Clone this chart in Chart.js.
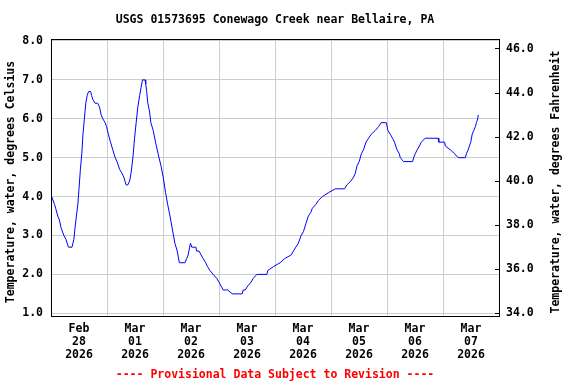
<!DOCTYPE html>
<html>
<head>
<meta charset="utf-8">
<script src="https://cdn.jsdelivr.net/npm/chart.js@4"></script>
<style>
html,body{margin:0;padding:0;background:#fff;}
#wrap{width:576px;height:384px;}
</style>
</head>
<body>
<div id="wrap"><canvas id="c" width="576" height="384"></canvas></div>
<script>
// ---- data (hours since 2026-02-28 00:00, water temperature in deg C) ----
const hours = [0.3,1.5,2.0,2.9,3.6,4.3,5.5,6.4,7.5,9.0,9.8,10.3,10.9,11.5,12.0,12.6,13.2,13.7,14.3,14.9,15.5,16.1,17.0,17.4,17.9,18.9,20.0,20.8,21.5,22.2,23.2,23.8,24.6,25.5,26.5,27.5,28.3,29.4,30.4,31.2,32.2,32.9,33.7,34.3,35.1,35.8,36.5,37.2,38.0,38.6,39.2,40.3,40.6,41.0,41.5,42.2,42.8,43.8,44.8,45.9,47.1,48.1,49.1,50.0,51.0,51.9,53.1,54.1,55.0,57.4,58.1,58.8,59.4,59.8,60.3,62.1,62.4,63.5,64.3,65.3,66.3,67.1,68.1,69.5,71.0,72.0,72.9,73.8,75.7,77.7,81.9,82.4,83.2,84.3,85.7,86.7,88.2,92.5,92.9,95.3,98.2,100.0,102.9,103.9,104.9,106.0,107.2,108.2,109.2,110.3,111.4,112.0,113.5,114.6,116.3,118.9,121.8,125.8,126.8,128.5,129.7,130.4,131.2,132.1,133.0,133.9,135.0,136.1,137.2,139.0,140.4,141.5,143.7,144.4,145.4,146.4,147.2,148.3,149.3,149.7,151.1,155.0,155.4,156.1,156.9,157.9,158.7,160.4,165.9,166.2,168.7,169.0,171.2,173.0,174.5,177.6,178.0,178.8,179.3,179.9,180.5,181.2,181.9,182.3,182.9,183.1];
const tempC = [4.0,3.8,3.7,3.5,3.4,3.2,3.0,2.9,2.7,2.7,2.9,3.2,3.5,3.8,4.2,4.7,5.1,5.6,6.0,6.4,6.6,6.7,6.7,6.6,6.5,6.4,6.4,6.3,6.1,6.0,5.9,5.8,5.6,5.4,5.2,5.0,4.9,4.7,4.6,4.5,4.3,4.3,4.4,4.6,5.0,5.5,5.9,6.3,6.6,6.8,7.0,7.0,6.9,6.7,6.4,6.2,5.9,5.7,5.4,5.1,4.8,4.5,4.1,3.8,3.5,3.2,2.8,2.6,2.3,2.3,2.4,2.5,2.7,2.8,2.7,2.7,2.6,2.6,2.5,2.4,2.3,2.2,2.1,2.0,1.9,1.8,1.7,1.6,1.6,1.5,1.5,1.6,1.6,1.7,1.8,1.9,2.0,2.0,2.1,2.2,2.3,2.4,2.5,2.6,2.7,2.8,3.0,3.1,3.3,3.5,3.6,3.7,3.8,3.9,4.0,4.1,4.2,4.2,4.3,4.4,4.5,4.6,4.8,4.9,5.1,5.2,5.4,5.5,5.6,5.7,5.8,5.9,5.9,5.7,5.6,5.5,5.4,5.2,5.1,5.0,4.9,4.9,5.0,5.1,5.2,5.3,5.4,5.5,5.5,5.4,5.4,5.3,5.2,5.1,5.0,5.0,5.1,5.2,5.3,5.4,5.6,5.7,5.8,5.9,6.0,6.1];
const dayMonths = ['Feb','Mar','Mar','Mar','Mar','Mar','Mar','Mar'];
const dayNums = ['28','01','02','03','04','05','06','07'];
const yearLabel = '2026';
const celsiusTicks = [1,2,3,4,5,6,7,8];
const fahrenheitTicks = [34,36,38,40,42,44,46];
const titleText = 'USGS 01573695 Conewago Creek near Bellaire, PA';
const footerText = '---- Provisional Data Subject to Revision ----';
const leftTitle = 'Temperature, water, degrees Celsius';
const rightTitle = 'Temperature, water, degrees Fahrenheit';

const FONT = '"DejaVu Sans Mono", "Liberation Mono", monospace';
Chart.defaults.color = '#000';
Chart.defaults.font.family = FONT;

const decor = {
  id: 'decor',
  beforeDraw(chart) {
    const ctx = chart.ctx;
    ctx.save();
    ctx.fillStyle = '#fff';
    ctx.fillRect(0, 0, chart.width, chart.height);
    ctx.restore();
  },
  afterDraw(chart) {
    const {ctx, chartArea: a} = chart;
    ctx.save();
    ctx.strokeStyle = '#000';
    ctx.lineWidth = 1;
    ctx.beginPath();
    ctx.moveTo(a.left, Math.round(a.top) + 0.5);
    ctx.lineTo(a.right + 0.5, Math.round(a.top) + 0.5);
    ctx.stroke();
    ctx.font = 'bold 11.5px ' + FONT;
    ctx.textAlign = 'center';
    ctx.textBaseline = 'middle';
    const cx = (a.left + a.right) / 2;
    ctx.fillStyle = '#000';
    ctx.fillText(titleText, cx, 20);
    ctx.fillStyle = '#ff0000';
    ctx.fillText(footerText, cx, 375);
    ctx.fillStyle = '#000';
    const cy = (a.top + a.bottom) / 2 + 4.5;
    ctx.save();
    ctx.translate(11.5, cy);
    ctx.rotate(-Math.PI / 2);
    ctx.fillText(leftTitle, 0, 0);
    ctx.restore();
    ctx.save();
    ctx.translate(556, cy);
    ctx.rotate(-Math.PI / 2);
    ctx.fillText(rightTitle, 0, 0);
    ctx.restore();
    ctx.restore();
  }
};

const tickFont = {family: FONT, size: 11.5, weight: 'bold', lineHeight: 1.13};

new Chart(document.getElementById('c'), {
  type: 'line',
  data: {
    datasets: [{
      data: hours.map((h, i) => ({x: h, y: tempC[i]})),
      borderColor: '#0000ff',
      borderWidth: 1,
      pointRadius: 0,
      tension: 0,
      fill: false
    }]
  },
  options: {
    responsive: false,
    animation: false,
    events: [],
    layout: {padding: {top: 39, bottom: 18, left: 0, right: 0}},
    plugins: {legend: {display: false}, tooltip: {enabled: false}, title: {display: false}},
    scales: {
      x: {
        type: 'linear',
        min: 0,
        max: 192,
        afterFit(s) { s.height = 50; },
        afterBuildTicks(s) {
          const t = [];
          for (let i = 0; i <= dayNums.length; i++) {
            t.push({value: i * 24});
            if (i < dayNums.length) t.push({value: i * 24 + 12});
          }
          s.ticks = t;
        },
        ticks: {
          autoSkip: false,
          maxRotation: 0,
          minRotation: 0,
          padding: 7,
          font: tickFont,
          color: '#000',
          callback(v) {
            if (v % 24 === 12) {
              const i = (v - 12) / 24;
              return [dayMonths[i], dayNums[i], yearLabel];
            }
            return '';
          }
        },
        grid: {
          drawTicks: false,
          color: (c) => (c.tick && c.tick.value % 24 === 0) ? '#cccccc' : 'rgba(0,0,0,0)',
          lineWidth: 1
        },
        border: {display: true, color: '#000', width: 1}
      },
      y: {
        type: 'linear',
        position: 'left',
        min: 0.931,
        max: 8.051,
        afterFit(s) { s.width = 51; },
        afterBuildTicks(s) { s.ticks = celsiusTicks.map(v => ({value: v})); },
        ticks: {
          padding: 8,
          font: tickFont,
          color: '#000',
          callback: (v) => Number(v).toFixed(1)
        },
        grid: {drawTicks: false, color: '#cccccc', lineWidth: 1},
        border: {display: true, color: '#000', width: 1}
      },
      y2: {
        type: 'linear',
        position: 'right',
        min: 33.877,
        max: 46.454,
        afterFit(s) { s.width = 77; },
        afterBuildTicks(s) { s.ticks = fahrenheitTicks.map(v => ({value: v})); },
        ticks: {
          padding: 11,
          font: tickFont,
          color: '#000',
          callback: (v) => Number(v).toFixed(1)
        },
        grid: {drawOnChartArea: false, drawTicks: true, tickLength: -4, color: '#000', tickColor: '#000', lineWidth: 1},
        border: {display: true, color: '#000', width: 1}
      }
    }
  },
  plugins: [decor]
});
</script>
</body>
</html>
